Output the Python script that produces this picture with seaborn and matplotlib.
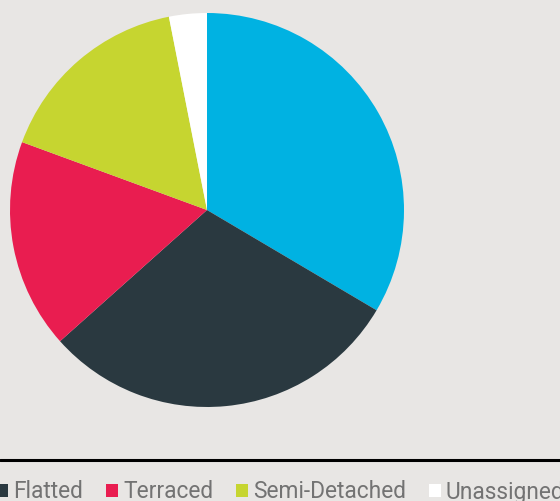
import seaborn as sns
import matplotlib.pyplot as plt
from matplotlib.patches import Patch
from matplotlib.lines import Line2D

labels = ['Detached', 'Flatted', 'Terraced', 'Semi-Detached', 'Unassigned']
shares = [33.5, 29.9, 17.2, 16.3, 3.1]
colors = ['#00B2E2', '#2A3940', '#E91D50', '#C6D530', '#FFFFFF']

bg = '#E8E6E4'
sns.set_style('white', {'axes.facecolor': bg, 'figure.facecolor': bg})
plt.rcParams['font.family'] = ['Roboto', 'DejaVu Sans']

fig = plt.figure(figsize=(5.6, 5.01), dpi=100)
W, H = 560, 501
cx, cy, r = 207, 210, 197
ax = fig.add_axes([(cx - r) / W, (H - cy - r) / H, 2 * r / W, 2 * r / H])
ax.pie(shares, colors=colors, startangle=90, counterclock=False,
       wedgeprops=dict(linewidth=0))
ax.set_xlim(-1, 1)
ax.set_ylim(-1, 1)
ax.set_aspect('auto')
ax.axis('off')

# rule above the legend
fig.add_artist(Line2D([0, 1], [(H - 459.5) / H] * 2, transform=fig.transFigure,
                      color='black', linewidth=2.2))

# legend row runs off the left edge, so the first entry is hidden
handles = [Patch(facecolor=c, edgecolor='none') for c in colors]
fig.legend(handles, labels, ncol=5, loc='center left',
           bbox_to_anchor=(-0.249, 9 / H), frameon=False,
           prop=dict(size=16.4, weight='normal'), labelcolor='#737373',
           handlelength=0.53, handleheight=0.53, handletextpad=0.22,
           columnspacing=1.0, borderpad=0, borderaxespad=0)

fig.savefig('out.png', dpi=100, facecolor=bg)
